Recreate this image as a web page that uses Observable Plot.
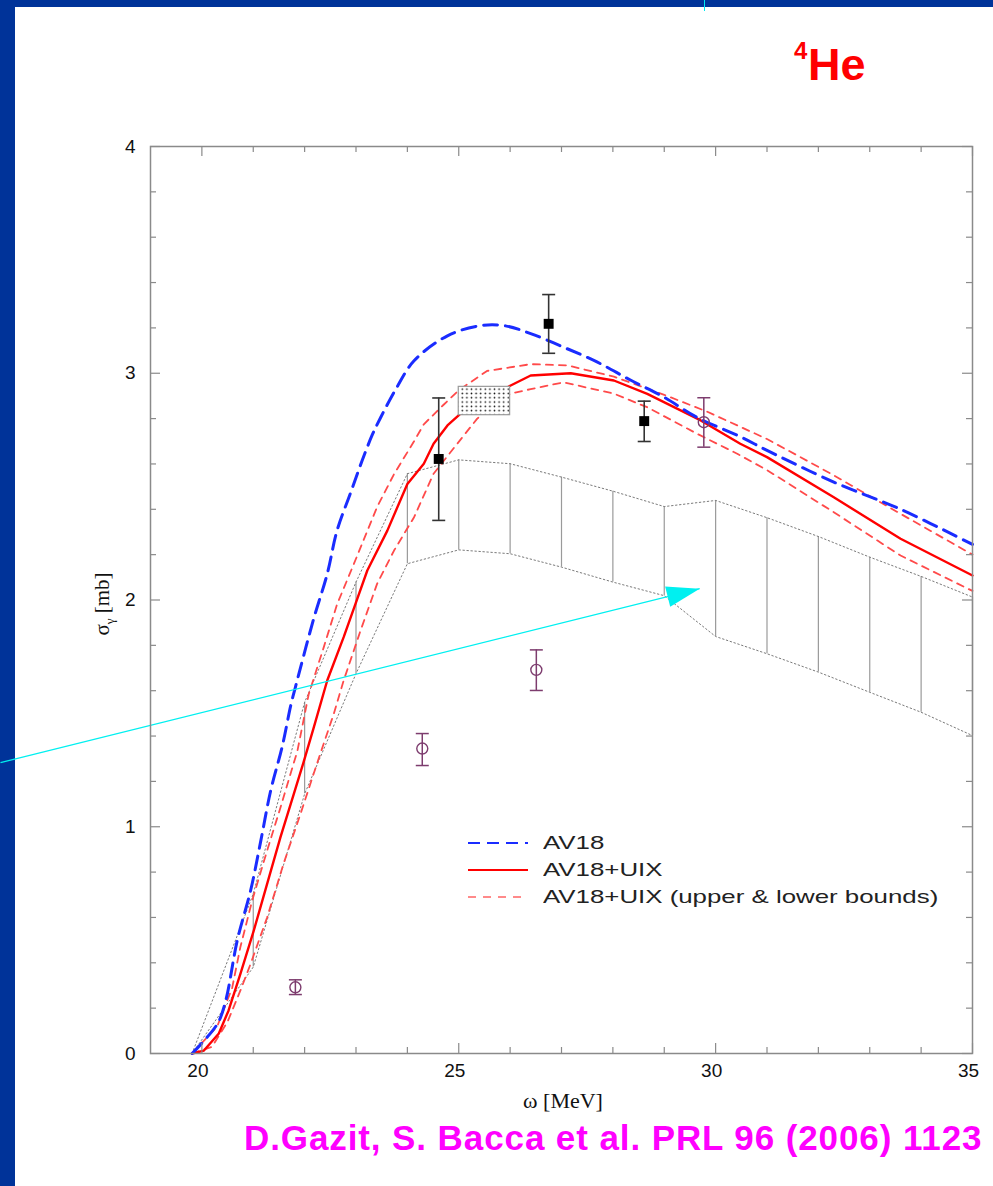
<!DOCTYPE html>
<html><head><meta charset="utf-8">
<script src="https://cdn.jsdelivr.net/npm/d3@7"></script>
<script src="https://cdn.jsdelivr.net/npm/@observablehq/plot@0.6"></script>
<style>
html,body{margin:0;padding:0;background:#fff;overflow:hidden;}
#page{position:relative;width:993px;height:1186px;overflow:hidden;background:#fff;font-family:"Liberation Sans",Arial,sans-serif;}
.abs{position:absolute;}
#legend .row{display:flex;align-items:center;height:27px;}
#legend svg{margin-right:15px;flex:none;}
#legend span{display:inline-block;transform:scaleX(1.36);transform-origin:left center;}
</style></head><body>
<div id="page">
  <div class="abs" style="left:0;top:0;width:993px;height:7px;background:#003399"></div>
  <div class="abs" style="left:0;top:0;width:15px;height:1186px;background:#003399"></div>
  <div id="chart" class="abs" style="left:0;top:0"></div>
  <div class="abs" style="left:704px;top:0;width:1px;height:11px;background:#00e8f0"></div>
  <div class="abs" style="left:794px;top:39px;font:bold 24px 'Liberation Sans',Arial,sans-serif;line-height:24px;color:#ff0000">4</div>
  <div class="abs" style="left:808px;top:42px;font:bold 45px 'Liberation Sans',Arial,sans-serif;line-height:45px;color:#ff0000">He</div>
  <div id="ylabel" class="abs" style="left:104px;top:604px;transform:translate(-50%,-50%) rotate(-90deg);font:21px 'Liberation Serif','Times New Roman',serif;color:#111;white-space:nowrap">σ<sub style="font-size:13px">γ</sub> [mb]</div>
  <div id="xlabel" class="abs" style="left:563px;top:1101px;transform:translate(-50%,-50%);font:22px 'Liberation Serif','Times New Roman',serif;color:#111;white-space:nowrap">ω [MeV]</div>
  <div id="legend" class="abs" style="left:468px;top:829px;font:19px 'Liberation Sans',Arial,sans-serif;color:#222;white-space:nowrap"></div>
  <div id="caption" class="abs" style="left:244px;top:1120px;font:bold 35px 'Liberation Sans',Arial,sans-serif;line-height:35px;letter-spacing:0.9px;color:#ff00ff;white-space:nowrap">D.Gazit, S. Bacca et al. PRL 96 (2006) 1123</div>
</div>
<script>
// ---------- data ----------
const xDomain = [19, 35];
const yDomain = [0, 4];
const xMajorTicks = [20, 25, 30, 35];
const xMinorTicks = [21, 22, 23, 24, 26, 27, 28, 29, 31, 32, 33, 34];
const yMajorTicks = [0, 1, 2, 3, 4];
const yMinorTicks = [0.2, 0.4, 0.6, 0.8, 1.2, 1.4, 1.6, 1.8, 2.2, 2.4, 2.6, 2.8, 3.2, 3.4, 3.6, 3.8];

// AV18 (blue dashed)
const av18Omega = [19.81, 20.30, 20.46, 20.69, 20.95, 21.14, 21.34, 21.56, 21.73, 21.82, 22.18, 22.44, 22.63, 22.89, 23.12, 23.32, 23.48, 23.80, 24.13, 24.78, 25.42, 25.88, 26.40, 27.04, 27.69, 28.34, 28.99, 29.64, 30.48, 31.00, 32.30, 33.60, 35.00];
const av18Sigma = [0, 0.13, 0.23, 0.50, 0.72, 0.93, 1.16, 1.35, 1.535, 1.615, 1.92, 2.115, 2.305, 2.47, 2.615, 2.73, 2.805, 2.94, 3.055, 3.165, 3.21, 3.21, 3.175, 3.115, 3.05, 2.97, 2.895, 2.805, 2.72, 2.66, 2.52, 2.40, 2.245];

// AV18+UIX (red solid)
const uixOmega = [19.81, 20.04, 20.33, 20.52, 20.75, 21.01, 21.27, 21.53, 21.79, 21.98, 22.18, 22.44, 22.76, 22.99, 23.22, 23.61, 24.00, 24.32, 24.51, 24.78, 25.03, 26.01, 26.40, 27.18, 28.02, 28.67, 29.71, 30.48, 31.00, 32.30, 33.60, 35.00];
const uixSigma = [0, 0.013, 0.088, 0.19, 0.351, 0.542, 0.748, 0.954, 1.145, 1.285, 1.439, 1.645, 1.836, 1.983, 2.13, 2.306, 2.512, 2.601, 2.689, 2.77, 2.821, 2.946, 2.99, 3.00, 2.968, 2.909, 2.792, 2.689, 2.63, 2.453, 2.27, 2.108];

// AV18+UIX upper bound (red dashed)
const uixUpOmega = [19.81, 20.30, 20.59, 20.75, 20.98, 21.27, 21.53, 21.86, 22.08, 22.37, 22.63, 22.96, 23.41, 23.74, 24.13, 24.32, 24.70, 25.00, 25.55, 26.40, 27.11, 28.02, 29.00, 29.84, 31.00, 32.30, 33.60, 35.00];
const uixUpSigma = [0, 0.12, 0.29, 0.47, 0.675, 0.895, 1.085, 1.335, 1.585, 1.79, 1.98, 2.16, 2.41, 2.555, 2.70, 2.775, 2.86, 2.925, 3.01, 3.04, 3.035, 2.985, 2.905, 2.83, 2.71, 2.55, 2.38, 2.20];

// AV18+UIX lower bound (red dashed)
const uixLoOmega = [19.81, 20.20, 20.50, 20.75, 20.95, 21.27, 21.59, 21.92, 22.24, 22.57, 22.76, 23.09, 23.41, 23.74, 24.13, 24.51, 24.97, 25.36, 26.00, 26.40, 27.04, 28.02, 28.67, 29.64, 30.42, 31.00, 32.30, 33.60, 35.00];
const uixLoSigma = [0, 0.03, 0.14, 0.278, 0.396, 0.60, 0.837, 1.057, 1.278, 1.50, 1.645, 1.866, 2.071, 2.218, 2.365, 2.557, 2.689, 2.80, 2.91, 2.93, 2.96, 2.91, 2.85, 2.733, 2.645, 2.573, 2.387, 2.196, 2.04];

// hatched experimental band (grey dotted edges + vertical lines)
const bandOmega = [19.81, 21, 22, 23, 24, 25, 26, 27, 28, 29, 30, 31, 32, 33, 34, 35];
const bandHigh  = [0, 0.704, 1.549, 2.079, 2.557, 2.618, 2.601, 2.542, 2.480, 2.412, 2.439, 2.363, 2.280, 2.189, 2.104, 2.013];
const bandLow   = [0, 0.381, 1.145, 1.675, 2.160, 2.221, 2.204, 2.145, 2.079, 2.019, 1.839, 1.763, 1.682, 1.593, 1.505, 1.402];

// dotted box
const boxOmega = [25.0, 26.0];
const boxSigma = [2.815, 2.94];

// filled squares with error bars
const sqOmega = [24.61, 26.75, 28.61];
const sqSigma = [2.622, 3.218, 2.789];
const sqLow   = [2.351, 3.088, 2.699];
const sqHigh  = [2.891, 3.347, 2.877];

// open circles with error bars
const ciOmega = [21.82, 24.29, 26.51, 29.77];
const ciSigma = [0.292, 1.345, 1.692, 2.784];
const ciLow   = [0.260, 1.270, 1.601, 2.674];
const ciHigh  = [0.325, 1.411, 1.780, 2.892];

// cyan annotation arrow (from, to) in data units
const arrowFrom = [16.08, 1.283];
const arrowTo   = [29.69, 2.050];

const legendLabels = ["AV18", "AV18+UIX", "AV18+UIX (upper & lower bounds)"];

// ---------- layout / styles ----------
const W = 993, H = 1186, mL = 150, mR = 21, mT = 146, mB = 133;
const plotW = W - mL - mR, plotH = H - mT - mB;
const frameColor = "#8a8a8a";
const blue = "#1a2cff", red = "#ff0000", redLight = "#ff4a4a";
const purple = "#7d3c6e";

const rows = (xs, ys) => xs.map((x, i) => ({x, y: ys[i]}));
const av18 = rows(av18Omega, av18Sigma);
const uix = rows(uixOmega, uixSigma);
const uixUp = rows(uixUpOmega, uixUpSigma);
const uixLo = rows(uixLoOmega, uixLoSigma);
const band = bandOmega.map((x, i) => ({x, hi: bandHigh[i], lo: bandLow[i]}));
const squares = sqOmega.map((x, i) => ({x, y: sqSigma[i], lo: sqLow[i], hi: sqHigh[i]}));
const circles = ciOmega.map((x, i) => ({x, y: ciSigma[i], lo: ciLow[i], hi: ciHigh[i]}));
const box = [{x1: boxOmega[0], x2: boxOmega[1], y1: boxSigma[0], y2: boxSigma[1]}];
const arrow = [{x1: arrowFrom[0], y1: arrowFrom[1], x2: arrowTo[0], y2: arrowTo[1]}];

// arrow head symbol (filled, elongated), oriented along the arrow in screen space
const kx = plotW / (xDomain[1] - xDomain[0]), ky = plotH / (yDomain[1] - yDomain[0]);
const ang = Math.atan2(-(arrow[0].y2 - arrow[0].y1) * ky, (arrow[0].x2 - arrow[0].x1) * kx);
const arrowHead = {draw(ctx) {
  const c = Math.cos(ang), s = Math.sin(ang), L = 33, h = 10.5;
  const bx = -L * c, by = -L * s, px = -s * h, py = c * h;
  ctx.moveTo(0, 0); ctx.lineTo(bx + px, by + py); ctx.lineTo(bx - px, by - py); ctx.closePath();
}};
const cap = (w) => ({draw(ctx) { ctx.moveTo(-w / 2, 0); ctx.lineTo(w / 2, 0); }});

const chart = Plot.plot({
  width: W, height: H,
  marginLeft: mL, marginRight: mR, marginTop: mT, marginBottom: mB,
  x: {domain: xDomain},
  y: {domain: yDomain},
  style: {background: "transparent", fontFamily: "'Liberation Sans', Arial, sans-serif", fontSize: "19px", color: "#111", overflow: "visible"},
  marks: [
    // band
    Plot.ruleX(band, {x: "x", y1: "lo", y2: "hi", stroke: "#9a9a9a", strokeWidth: 1.2}),
    Plot.line(band, {x: "x", y: "hi", stroke: "#7a7a7a", strokeWidth: 1, strokeDasharray: "1.5,2.5"}),
    Plot.line(band, {x: "x", y: "lo", stroke: "#7a7a7a", strokeWidth: 1, strokeDasharray: "1.5,2.5"}),
    // theory curves
    Plot.line(uixUp, {x: "x", y: "y", stroke: redLight, strokeWidth: 1.8, strokeDasharray: "7,6"}),
    Plot.line(uixLo, {x: "x", y: "y", stroke: redLight, strokeWidth: 1.8, strokeDasharray: "7,6"}),
    Plot.line(uix, {x: "x", y: "y", stroke: red, strokeWidth: 2.4}),
    // dotted box
    Plot.rect(box, {x1: "x1", x2: "x2", y1: "y1", y2: "y2", fill: "url(#dotpat)", stroke: "#9a9a9a", strokeWidth: 1.2}),
    Plot.line(av18, {x: "x", y: "y", stroke: blue, strokeWidth: 3, strokeDasharray: "14,8", curve: "catmull-rom"}),
    // squares with error bars
    Plot.ruleX(squares, {x: "x", y1: "lo", y2: "hi", stroke: "#333", strokeWidth: 1.6}),
    Plot.dot(squares, {x: "x", y: "lo", symbol: cap(13), stroke: "#333", strokeWidth: 1.6, fill: "none"}),
    Plot.dot(squares, {x: "x", y: "hi", symbol: cap(13), stroke: "#333", strokeWidth: 1.6, fill: "none"}),
    Plot.dot(squares, {x: "x", y: "y", symbol: "square", r: 5.6, fill: "#000", stroke: "none"}),
    // circles with error bars
    Plot.ruleX(circles, {x: "x", y1: "lo", y2: "hi", stroke: purple, strokeWidth: 1.5}),
    Plot.dot(circles, {x: "x", y: "lo", symbol: cap(13), stroke: purple, strokeWidth: 1.5, fill: "none"}),
    Plot.dot(circles, {x: "x", y: "hi", symbol: cap(13), stroke: purple, strokeWidth: 1.5, fill: "none"}),
    Plot.dot(circles, {x: "x", y: "y", r: 5.5, stroke: purple, strokeWidth: 1.4, fill: "none"}),
    // cyan arrow
    Plot.link(arrow, {x1: "x1", y1: "y1", x2: "x2", y2: "y2", stroke: "#00f0f0", strokeWidth: 1.2}),
    Plot.dot(arrow, {x: "x2", y: "y2", symbol: arrowHead, fill: "#00f0f0", stroke: "none"}),
    // frame and inward ticks
    Plot.frame({stroke: frameColor, strokeWidth: 1.5}),
    Plot.tickX(xMajorTicks, {x: d => d, insetTop: plotH - 10, stroke: frameColor, strokeWidth: 1.2}),
    Plot.tickX(xMajorTicks, {x: d => d, insetBottom: plotH - 10, stroke: frameColor, strokeWidth: 1.2}),
    Plot.tickX(xMinorTicks, {x: d => d, insetTop: plotH - 6, stroke: frameColor, strokeWidth: 1.2}),
    Plot.tickX(xMinorTicks, {x: d => d, insetBottom: plotH - 6, stroke: frameColor, strokeWidth: 1.2}),
    Plot.tickY(yMajorTicks, {y: d => d, insetRight: plotW - 10, stroke: frameColor, strokeWidth: 1.2}),
    Plot.tickY(yMajorTicks, {y: d => d, insetLeft: plotW - 10, stroke: frameColor, strokeWidth: 1.2}),
    Plot.tickY(yMinorTicks, {y: d => d, insetRight: plotW - 6, stroke: frameColor, strokeWidth: 1.2}),
    Plot.tickY(yMinorTicks, {y: d => d, insetLeft: plotW - 6, stroke: frameColor, strokeWidth: 1.2}),
    Plot.axisX({ticks: xMajorTicks, tickSize: 0, tickPadding: 10, label: null, dx: -4, tickFormat: d => String(d)}),
    Plot.axisY({ticks: yMajorTicks, tickSize: 0, tickPadding: 15, label: null, tickFormat: d => String(d)})
  ]
});

// dot pattern for the box
const ns = "http://www.w3.org/2000/svg";
const defs = document.createElementNS(ns, "defs");
defs.innerHTML = '<pattern id="dotpat" patternUnits="userSpaceOnUse" width="4.6" height="4.3">' +
  '<rect width="4.6" height="4.3" fill="#fff"/><circle cx="2.3" cy="2.15" r="0.85" fill="#111"/></pattern>';
chart.insertBefore(defs, chart.firstChild);
document.getElementById("chart").appendChild(chart);

// legend
const legendStyles = [
  {stroke: blue, width: 2.2, dash: "12,7"},
  {stroke: red, width: 2.2, dash: null},
  {stroke: "#ff8a8a", width: 2, dash: "8,7"}
];
const legend = document.getElementById("legend");
legendLabels.forEach((label, i) => {
  const st = legendStyles[i];
  const row = document.createElement("div");
  row.className = "row";
  row.innerHTML = `<svg width="60" height="10"><line x1="0" y1="5" x2="60" y2="5" stroke="${st.stroke}" stroke-width="${st.width}" ${st.dash ? `stroke-dasharray="${st.dash}"` : ""}/></svg><span></span>`;
  row.querySelector("span").textContent = label;
  legend.appendChild(row);
});
</script>
</body></html>
